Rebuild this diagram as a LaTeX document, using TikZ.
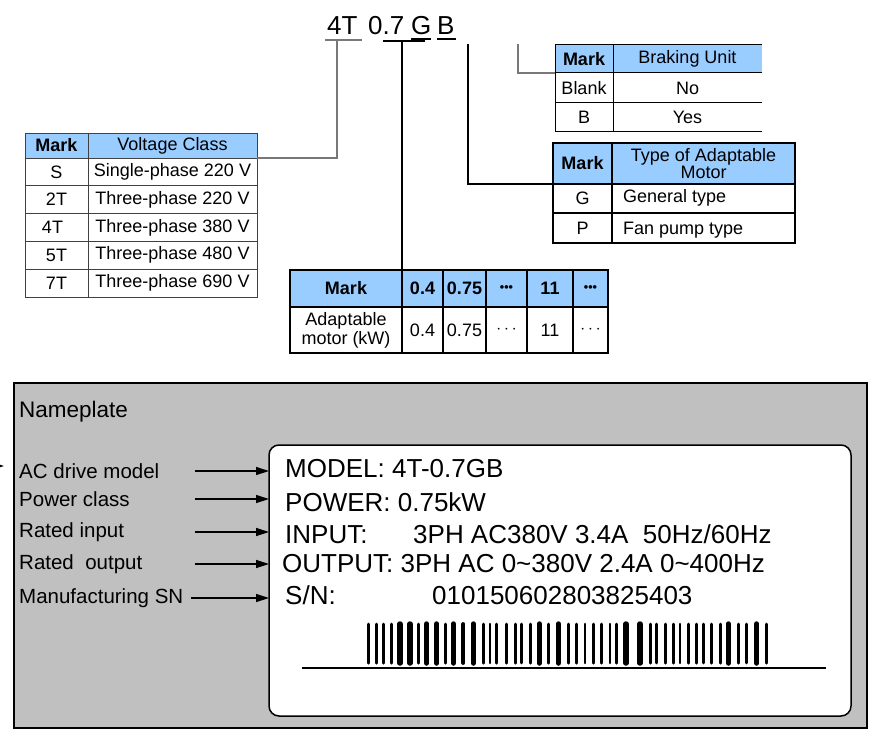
\documentclass[tikz,border=0pt]{standalone}
\usepackage{fontspec}
\setmainfont{Liberation Sans}
\usetikzlibrary{arrows.meta}
\definecolor{hdr}{RGB}{153,204,255}
\definecolor{platec}{RGB}{192,192,192}
\definecolor{gline}{RGB}{120,120,120}
\begin{document}
\begin{tikzpicture}[x=1pt,y=-1pt,
  tf/.style={font=\fontsize{18}{18}\selectfont},
  cellbox/.style={anchor=north west, inner sep=0pt, outer sep=0pt, align=center, tf},
  vcell/.style={cellbox, draw=black!75, line width=0.9},
  bcell/.style={cellbox},
  tcell/.style={cellbox, draw=black, line width=2},
  pcell/.style={cellbox, draw=black, line width=2},
  lbl/.style={anchor=west, inner sep=0pt, font=\fontsize{20.5}{20.5}\selectfont},
  plt/.style={anchor=base west, inner sep=0pt, font=\fontsize{26}{26}\selectfont},
  arr/.style={line width=1.3, -{Triangle[length=13pt,width=8pt]}},
  titlef/.style={anchor=base west, inner sep=0pt, font=\fontsize{26}{26}\selectfont},
  dots/.style={font=\fontsize{12.5}{12.5}\selectfont\bfseries}]
\useasboundingbox (0,0) rectangle (882,746);
\fill[white] (0,0) rectangle (882,746);

% ---------- title ----------
\node[titlef] (t4) at (327,35) {4T};
\node[titlef] (t07) at (368,35) {0.7};
\node[titlef] (tg) at (411,35) {G};
\node[titlef] (tb) at (437,35) {B};
\draw[gline, line width=1.2] (325,40) -- (362,40);
\draw[line width=1.2] (411,39) -- (431,39);
\draw[line width=1.2] (437,39) -- (456,39);
\draw[line width=2.5] (383,41) -- (425,41);

% ---------- voltage table ----------
\node[vcell, fill=hdr, minimum width=63, minimum height=25] (vm) at (25,133) {\bfseries Mark};
\node[vcell, fill=hdr, minimum width=169, minimum height=25] (vc) at (88,133) {Voltage Class};
\foreach \i/\m/\t in {0/S/Single-phase 220 V, 1/2T/Three-phase 220 V, 2/4T\hspace{8pt}/Three-phase 380 V, 3/5T/Three-phase 480 V, 4/7T/Three-phase 690 V}{
  \node[vcell, minimum width=63, minimum height=27.8] (vm\i) at (25,158+27.8*\i) {\m};
  \node[vcell, minimum width=169, minimum height=27.8] (vc\i) at (88,158+27.8*\i) {\t};
}

% ---------- braking unit table ----------
\node[bcell, fill=hdr, minimum width=58, minimum height=28] (bm) at (555,45) {\bfseries Mark};
\node[bcell, fill=hdr, minimum width=149, minimum height=28] (bu) at (613,45) {Braking Unit};
\node[bcell, minimum width=58, minimum height=30] (bm1) at (555,73) {Blank};
\node[bcell, minimum width=149, minimum height=30] (bu1) at (613,73) {No};
\node[bcell, minimum width=58, minimum height=29] (bm2) at (555,103) {B};
\node[bcell, minimum width=149, minimum height=29] (bu2) at (613,103) {Yes};
\draw[line width=1] (bu.north east) -- (bm.north west) -- (bm2.south west) -- (bu2.south east);
\draw[line width=1] (bm.south west) -- (bu.south east) (bm1.south west) -- (bu1.south east);
\draw[line width=1] (bm.north east) -- (bm2.south east);

% ---------- type of adaptable motor table ----------
\node[tcell, fill=hdr, minimum width=59, minimum height=41] (tm) at (553,143) {\bfseries Mark};
\node[tcell, fill=hdr, minimum width=183, minimum height=41, font=\fontsize{18}{16.5}\selectfont] (tt) at (612,143) {Type of Adaptable\\Motor};
\node[tcell, minimum width=59, minimum height=29] (tm1) at (553,184) {G};
\node[tcell, minimum width=183, minimum height=29] (tt1) at (612,184) {};
\node[tcell, minimum width=59, minimum height=30] (tm2) at (553,213) {P};
\node[tcell, minimum width=183, minimum height=30] (tt2) at (612,213) {};
\node[anchor=west, inner sep=0pt, tf] (gtxt) at (623,198) {General type};
\node[anchor=west, inner sep=0pt, tf] (ptxt) at (623,230) {Fan pump type};

% ---------- power table ----------
\node[pcell, fill=hdr, minimum width=112, minimum height=37] (pm) at (290,270) {\bfseries Mark};
\node[pcell, fill=hdr, minimum width=41, minimum height=37] (p1) at (402,270) {\bfseries 0.4};
\node[pcell, fill=hdr, minimum width=43, minimum height=37] (p2) at (443,270) {\bfseries 0.75};
\node[pcell, fill=hdr, minimum width=41, minimum height=37, dots] (p3) at (486,270) {•••};
\node[pcell, fill=hdr, minimum width=46, minimum height=37] (p4) at (527,270) {\bfseries 11};
\node[pcell, fill=hdr, minimum width=35, minimum height=37, dots] (p5) at (573,270) {•••};
\node[pcell, minimum width=112, minimum height=46, font=\fontsize{18}{19}\selectfont] (q0) at (290,307) {Adaptable\\motor (kW)};
\node[pcell, minimum width=41, minimum height=46] (q1) at (402,307) {0.4};
\node[pcell, minimum width=43, minimum height=46] (q2) at (443,307) {0.75};
\node[pcell, minimum width=41, minimum height=46] (q3) at (486,307) {$\cdots$};
\node[pcell, minimum width=46, minimum height=46] (q4) at (527,307) {11};
\node[pcell, minimum width=35, minimum height=46] (q5) at (573,307) {$\cdots$};

% ---------- connectors from the title ----------
\coordinate (c4) at (337,40);
\coordinate (c07) at (402,41);
\coordinate (cg) at (468,44);
\coordinate (cb) at (518,44);
\draw[gline, line width=1.2] (c4) |- (vc.south east);
\draw[line width=2.5] (c07) -- (pm.north east);
\draw[line width=2.2] (cg) |- (tm.south west);
\draw[gline, line width=1.2] (cb) |- (bm.south west);

% ---------- nameplate ----------
\node[draw=black, line width=2, fill=platec, anchor=north west, inner sep=0pt, outer sep=0pt,
      minimum width=853, minimum height=345] (plate) at (14,383) {};
\node[draw=black, line width=1.5, fill=white, rounded corners=10, anchor=north west, inner sep=0pt, outer sep=0pt,
      minimum width=582, minimum height=271] (inner) at (269,445) {};
\node[anchor=west, inner sep=0pt, font=\fontsize{22.5}{22.5}\selectfont] (np) at (19,412) {Nameplate};

\node[lbl] (l1) at (19,471) {AC drive model};
\node[lbl] (l2) at (19,499) {Power class};
\node[lbl] (l3) at (19,532) {Rated input};
\node[lbl] (l4) at (19,564) {Rated\ \ output};
\node[lbl] (l5) at (19,598) {Manufacturing SN};
\coordinate (as) at (195,0);
\coordinate (as5) at (191,0);
\draw[arr] (l1 -| as) -- (l1 -| inner.west);
\draw[arr] (l2 -| as) -- (l2 -| inner.west);
\draw[arr] (l3 -| as) -- (l3 -| inner.west);
\draw[arr] (l4 -| as) -- (l4 -| inner.west);
\draw[arr] (l5 -| as5) -- (l5 -| inner.west);
\coordinate (frag0) at (-20,466);
\coordinate (frag1) at (4,466);
\draw[arr] (frag0) -- (frag1);

\node[plt] (m1) at (285,477) {MODEL: 4T-0.7GB};
\node[plt] (m2) at (285,511) {POWER: 0.75kW};
\node[plt] (m3) at (285,543) {INPUT:};
\node[plt] (m3b) at (413,543) {3PH AC380V 3.4A\ \ 50Hz/60Hz};
\node[plt] (m4) at (282,572) {OUTPUT: 3PH AC 0\textasciitilde380V 2.4A 0\textasciitilde400Hz};
\node[plt] (m5) at (285,604) {S/N:};
\node[plt] (m5b) at (432,604) {010150602803825403};

% barcode
\foreach \x/\w in {368.3/3, 376.7/3, 383.3/3, 391.7/3, 400/5.5, 410/5.5, 418.3/3, 426.7/5.5,
  436.7/5.5, 445/3, 453.3/5.5, 463.3/3.8, 473.3/5.5, 483.3/3, 490/2.6, 496.7/3, 506.7/3, 515/3,
  521.7/2.6, 530/3, 539.3/5.5, 548.3/3, 558.3/5.5, 568.3/3, 576.7/3, 585/2.6, 593.3/3,
  601.7/3, 610/2.6, 616.7/3, 626/5.5, 640/5.5, 650/3, 656.7/2.6, 665/3, 673.3/3, 680/2.6,
  688.3/3, 696.7/3, 703.3/2.6, 711.7/3, 720/3, 728.3/5.5, 738.3/3, 746.7/2.6, 756.7/5.5, 766.7/3}{
  \draw[line width=\w, line cap=round] (\x,624) -- (\x,663);
}
\coordinate (bl0) at (302,668);
\coordinate (bl1) at (826,668);
\draw[line width=2.5] (bl0) -- (bl1);
\end{tikzpicture}
\end{document}
